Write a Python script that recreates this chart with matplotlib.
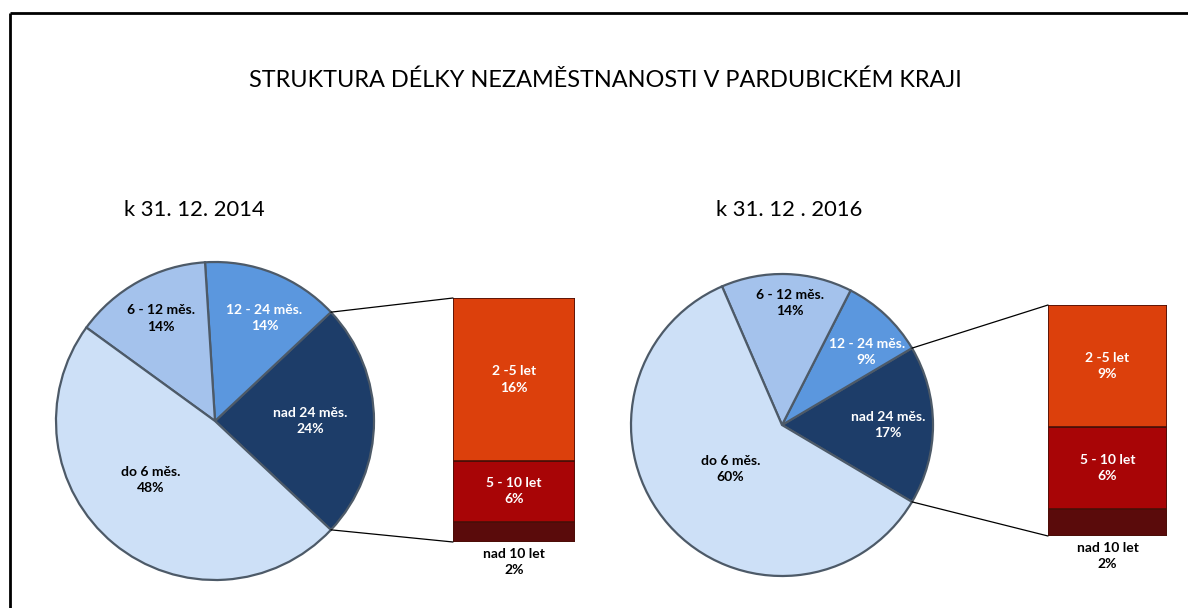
import numpy as np
import matplotlib
matplotlib.use('Agg')
import matplotlib.pyplot as plt
from matplotlib.patches import ConnectionPatch

plt.rcParams['font.family'] = ['Lato', 'DejaVu Sans']

W, H = 1188, 608

title = 'STRUKTURA DÉLKY NEZAMĚSTNANOSTI V PARDUBICKÉM KRAJI'

# pie slices, counterclockwise from the split-off slice
pie_labels = ['nad 24 měs.', '12 - 24 měs.', '6 - 12 měs.', 'do 6 měs.']
pie_2014 = [24, 14, 14, 48]
pie_2016 = [17, 9, 14, 60]

# breakdown of "nad 24 měs." (from bottom of bar up)
bar_labels = ['nad 10 let', '5 - 10 let', '2 -5 let']
bar_2014 = [2, 6, 16]
bar_2016 = [2, 6, 9]

subtitles = ['k 31. 12. 2014', 'k 31. 12 . 2016']

pie_colors = ['#1d3d69', '#5b97de', '#a4c2ec', '#cde0f7']
pie_text = ['white', 'white', 'black', 'black']
bar_colors = ['#5a0b0b', '#a80506', '#dc400c']

fig = plt.figure(figsize=(W / 100, H / 100), dpi=100)
ax = fig.add_axes([0, 0, 1, 1])


def draw(values, bvalues, center, radius, bar_box, lab_r, lab_da, sub_xy, sub):
    cx, cy = center[0], H - center[1]
    wedges, _ = ax.pie(values, colors=pie_colors, startangle=-values[0] * 1.8,
                       counterclock=True, center=(cx, cy), radius=radius,
                       wedgeprops=dict(edgecolor='#4d5a68', linewidth=1.6))
    for w, lab, v, tc, rf, da in zip(wedges, pie_labels, values, pie_text, lab_r, lab_da):
        a = np.deg2rad((w.theta1 + w.theta2) / 2 + da)
        ax.text(cx + rf * radius * np.cos(a), cy + rf * radius * np.sin(a),
                '%s\n%d%%' % (lab, v), ha='center', va='center', color=tc,
                fontsize=10, fontweight='bold', linespacing=1.45)

    x0, y0, x1, y1 = bar_box
    bax = fig.add_axes([x0 / W, (H - y1) / H, (x1 - x0) / W, (y1 - y0) / H])
    total = sum(bvalues)
    bottom = 0
    for i, (v, lab, c) in enumerate(zip(bvalues, bar_labels, bar_colors)):
        bax.bar(0, v, width=1, bottom=bottom, color=c, edgecolor='#4a0f08', linewidth=1.2)
        txt = '%s\n%d%%' % (lab, v)
        if i == 0:
            bax.annotate(txt, (0, 0), xytext=(0, -4), textcoords='offset points',
                         ha='center', va='top', fontsize=10, fontweight='bold',
                         linespacing=1.45, annotation_clip=False)
        else:
            bax.text(0, bottom + v / 2, txt, ha='center', va='center', color='white',
                     fontsize=10, fontweight='bold', linespacing=1.45)
        bottom += v
    bax.set_xlim(-0.5, 0.5)
    bax.set_ylim(0, total)
    bax.axis('off')

    w0 = wedges[0]
    for ang, by in [(w0.theta2, total), (w0.theta1, 0)]:
        a = np.deg2rad(ang)
        p = (cx + radius * np.cos(a), cy + radius * np.sin(a))
        con = ConnectionPatch(xyA=p, coordsA=ax.transData, xyB=(-0.5, by),
                              coordsB=bax.transData, color='black', linewidth=0.9)
        fig.add_artist(con)

    ax.text(sub_xy[0], H - sub_xy[1], sub, ha='left', va='center', fontsize=15.8)


draw(pie_2014, bar_2014, (215, 421), 159, (453, 298, 575, 542),
     [0.6, 0.72, 0.73, 0.55], [0, -4, -1, -8], (124, 210), subtitles[0])
draw(pie_2016, bar_2016, (782, 425), 151, (1048, 305, 1167, 536),
     [0.7, 0.74, 0.81, 0.45], [0, -6, -2, -1], (716, 210), subtitles[1])

ax.text(605, H - 80, title, ha='center', va='center', fontsize=16.9)

# frame (only top and left edges visible)
ax.plot([10, W], [H - 13, H - 13], color='black', linewidth=2, solid_capstyle='butt')
ax.plot([10, 10], [H - 13, 0], color='black', linewidth=2, solid_capstyle='butt')

ax.set_xlim(0, W)
ax.set_ylim(0, H)
ax.set_aspect('auto')
ax.axis('off')

fig.savefig('out.png', dpi=100)
